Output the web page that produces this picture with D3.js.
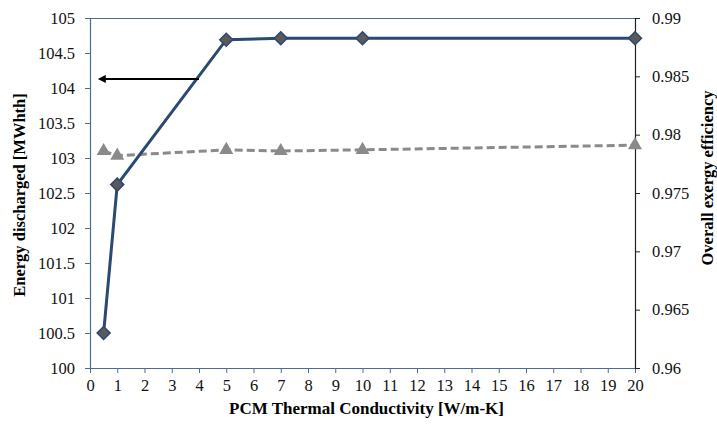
<!DOCTYPE html>
<html>
<head>
<meta charset="utf-8">
<script src="https://cdn.jsdelivr.net/npm/d3@7"></script>
<style>
  html, body { margin: 0; padding: 0; background: #fff; }
  svg { display: block; }
</style>
</head>
<body>
<svg id="chart" width="717" height="425"></svg>
<script>
// PCM thermal conductivity [W/m-K]
const conductivity = [0.5, 1, 5, 7, 10, 20];
// Energy discharged [MWhth]
const energyDischarged = [100.5, 102.62, 104.69, 104.71, 104.71, 104.71];
// Overall exergy efficiency
const exergyEfficiency = [0.9786, 0.9782, 0.9787, 0.9786, 0.9787, 0.9791];

const xTicks = d3.range(0, 21, 1);
const leftTicks = [100, 100.5, 101, 101.5, 102, 102.5, 103, 103.5, 104, 104.5, 105];
const rightTicks = [0.96, 0.965, 0.97, 0.975, 0.98, 0.985, 0.99];

const serif = "'Liberation Serif', monospace";

const svg = d3.select("#chart");
const plot = { left: 90, right: 635, top: 18, bottom: 368 };

const x = d3.scaleLinear().domain([0, 20]).range([plot.left, plot.right]);
const yL = d3.scaleLinear().domain([100, 105]).range([plot.bottom, plot.top]);
const yR = d3.scaleLinear().domain([0.96, 0.99]).range([plot.bottom, plot.top]);

const axisColor = "#4f6b8f";

// top border of the plot area
svg.append("line")
  .attr("x1", plot.left).attr("x2", plot.right)
  .attr("y1", plot.top + 0.5).attr("y2", plot.top + 0.5)
  .attr("stroke", axisColor).attr("stroke-width", 1);

// axes
const gx = svg.append("g")
  .attr("transform", `translate(0,${plot.bottom})`)
  .call(d3.axisBottom(x).tickValues(xTicks).tickFormat(d3.format("d")).tickSize(5).tickSizeOuter(0).tickPadding(6));

const gl = svg.append("g")
  .attr("transform", `translate(${plot.left},0)`)
  .call(d3.axisLeft(yL).tickValues(leftTicks).tickFormat(d => String(d)).tickSize(5).tickSizeOuter(0).tickPadding(10));

const gr = svg.append("g")
  .attr("transform", `translate(${plot.right},0)`)
  .call(d3.axisRight(yR).tickValues(rightTicks).tickFormat(d => String(d)).tickSize(5).tickSizeOuter(0).tickPadding(12));

[gx, gl].forEach(g => {
  g.select(".domain").attr("stroke", axisColor).attr("stroke-width", 1.2);
  g.selectAll(".tick line").attr("stroke", axisColor);
});
gr.select(".domain").attr("stroke", "#222").attr("stroke-width", 1.2);
gr.selectAll(".tick line").attr("stroke", "#222");

svg.selectAll(".tick text")
  .style("font-family", serif)
  .style("font-size", "16.5px")
  .attr("fill", "#111");

// exergy efficiency series (dashed, triangles)
const lineR = d3.line().x((d, i) => x(conductivity[i])).y(d => yR(d));
svg.append("path")
  .datum(exergyEfficiency)
  .attr("fill", "none")
  .attr("stroke", "#8a8a8a")
  .attr("stroke-width", 3)
  .attr("stroke-dasharray", "8,4")
  .attr("d", lineR);

const tri = d3.symbol().type(d3.symbolTriangle).size(85);
svg.append("g").selectAll("path")
  .data(exergyEfficiency)
  .join("path")
  .attr("d", tri)
  .attr("transform", (d, i) => `translate(${x(conductivity[i])},${yR(d)})`)
  .attr("fill", "#8a8a8a");

// energy discharged series (solid, diamonds)
const lineL = d3.line().x((d, i) => x(conductivity[i])).y(d => yL(d));
svg.append("path")
  .datum(energyDischarged)
  .attr("fill", "none")
  .attr("stroke", "#2b4a6f")
  .attr("stroke-width", 3)
  .attr("d", lineL);

svg.append("g").selectAll("path")
  .data(energyDischarged)
  .join("path")
  .attr("d", "M0,-6.5L6.5,0L0,6.5L-6.5,0Z")
  .attr("transform", (d, i) => `translate(${x(conductivity[i])},${yL(d)})`)
  .attr("fill", "#5a5a5a")
  .attr("stroke", "#2b4a6f")
  .attr("stroke-width", 1.5);

// arrow pointing to the left axis
svg.append("defs").append("marker")
  .attr("id", "arrowhead")
  .attr("viewBox", "0 0 10 10")
  .attr("refX", 1).attr("refY", 5)
  .attr("markerWidth", 5).attr("markerHeight", 4)
  .attr("markerUnits", "strokeWidth")
  .attr("orient", "auto-start-reverse")
  .append("path")
  .attr("d", "M0,0L10,5L0,10Z")
  .attr("fill", "#000");

svg.append("line")
  .attr("x1", 199).attr("y1", yL(104.13))
  .attr("x2", 105).attr("y2", yL(104.13))
  .attr("stroke", "#000")
  .attr("stroke-width", 2)
  .attr("marker-end", "url(#arrowhead)");

// axis titles
svg.append("text")
  .attr("x", (plot.left + plot.right) / 2 + 4)
  .attr("y", 414)
  .attr("text-anchor", "middle")
  .style("font-family", serif)
  .style("font-size", "17px")
  .style("font-weight", "bold")
  .text("PCM Thermal Conductivity [W/m-K]");

svg.append("text")
  .attr("transform", `translate(25,${195}) rotate(-90)`)
  .attr("text-anchor", "middle")
  .style("font-family", serif)
  .style("font-size", "16.5px")
  .style("font-weight", "bold")
  .text("Energy discharged [MWhth]");

svg.append("text")
  .attr("transform", `translate(713,${178}) rotate(-90)`)
  .attr("text-anchor", "middle")
  .style("font-family", serif)
  .style("font-size", "16.5px")
  .style("font-weight", "bold")
  .text("Overall exergy efficiency");
</script>
</body>
</html>
